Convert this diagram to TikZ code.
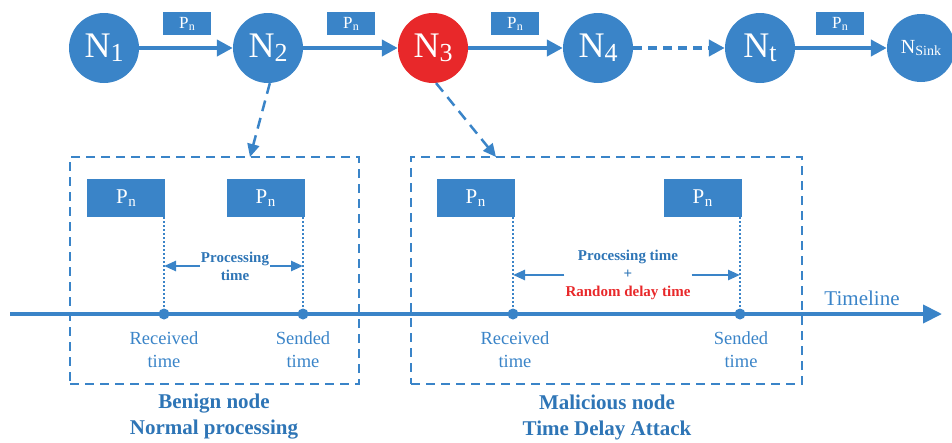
\documentclass[tikz,border=0pt]{standalone}
\usepackage{fontspec}
\setmainfont{Liberation Serif}
\usetikzlibrary{arrows.meta}
\definecolor{myblue}{HTML}{3A84C8}
\definecolor{myred}{HTML}{E8282A}
\definecolor{txtblue}{HTML}{2E75B6}
\newcommand\NN[1]{N\raisebox{-4pt}{\fontsize{26}{26}\selectfont #1}}
\newcommand\Psm{P\kern0.5pt\raisebox{-2pt}{\fontsize{12}{12}\selectfont n}}
\newcommand\Pbg{P\kern0.5pt\raisebox{-2.5pt}{\fontsize{15}{15}\selectfont n}}
\begin{document}
\begin{tikzpicture}[x=1pt,y=-1pt,
  net/.style={circle, fill=myblue, minimum size=70pt, inner sep=0pt, text=white, font=\fontsize{36}{36}\selectfont},
  badnet/.style={net, fill=myred},
  pksmall/.style={fill=myblue, text=white, inner sep=0pt, minimum width=48pt, minimum height=23pt, font=\fontsize{17}{17}\selectfont},
  pkbig/.style={fill=myblue, text=white, inner sep=0pt, minimum width=78pt, minimum height=38pt, font=\fontsize{21}{21}\selectfont},
  flow/.style={line width=4pt, myblue, -{Triangle[length=16pt,width=16pt]}},
  dflow/.style={flow, dash pattern=on 9pt off 6pt},
  zoomarr/.style={line width=2.5pt, myblue, dash pattern=on 11pt off 7pt, -{Triangle[length=13pt,width=12pt]}},
  frame/.style={draw=myblue, line width=2pt, dash pattern=on 9pt off 6pt},
  guide/.style={myblue, line width=2.5pt, dash pattern=on 2pt off 2pt},
  parr/.style={myblue, line width=2.5pt, -{Triangle[length=12pt,width=10pt]}},
  lbl/.style={text=myblue, align=center, font=\fontsize{18.5}{23}\selectfont},
  ptxt/.style={text=txtblue, align=center, inner sep=1pt, font=\bfseries\fontsize{15}{18}\selectfont},
  title/.style={text=txtblue, align=center, inner sep=0pt, font=\bfseries\fontsize{21}{26}\selectfont},
  dot/.style={circle, fill=myblue, minimum size=11pt, inner sep=0pt}
]
\useasboundingbox (0,0) rectangle (952,442);

% top chain
\node[net] (n1) at (104,48) {\NN{1}};
\node[net] (n2) at (268,48) {\NN{2}};
\node[badnet] (n3) at (433,48) {\NN{3}};
\node[net] (n4) at (598,48) {\NN{4}};
\node[net] (nt) at (760,48) {\NN{t}};
\node[net, minimum size=68pt, font=\fontsize{20}{20}\selectfont] (ns) at (921,48) {N\raisebox{-2pt}{\fontsize{14}{14}\selectfont Sink}};

\node[pksmall] (p1) at (187,23.5) {\Psm};
\node[pksmall] (p2) at (351,23.5) {\Psm};
\node[pksmall] (p3) at (515,23.5) {\Psm};
\node[pksmall] (p4) at (840,23.5) {\Psm};

\draw[flow] (n1) -- (n2);
\draw[flow] (n2) -- (n3);
\draw[flow] (n3) -- (n4);
\draw[dflow] (n4) -- (nt);
\draw[flow] (nt) -- (ns);

% frames
\node[frame, minimum width=289pt, minimum height=227pt, inner sep=0pt] (fb) at (214.5,270.5) {};
\node[frame, minimum width=391pt, minimum height=227pt, inner sep=0pt] (fm) at (606.5,270.5) {};

\coordinate (tb) at (250,157);
\coordinate (tm) at (496,157);
\draw[zoomarr] (n2.-87) -- (tb);
\draw[zoomarr] (n3.-85) -- (tm);

% packets in frames
\node[pkbig] (a1) at (126,198) {\Pbg};
\node[pkbig] (a2) at (265.5,198) {\Pbg};
\node[pkbig] (b1) at (475.5,198) {\Pbg};
\node[pkbig] (b2) at (702.5,198) {\Pbg};

% timeline
\coordinate (ts) at (10,314);
\coordinate (te) at (942,314);
\draw[line width=4pt, myblue, -{Triangle[length=19pt,width=18pt]}] (ts) -- (te);
\node[text=myblue, font=\fontsize{21}{21}\selectfont] (tl) at (862,298) {Timeline};

\node[dot] (r1) at (164,314) {};
\node[dot] (s1) at (303,314) {};
\node[dot] (r2) at (513,314) {};
\node[dot] (s2) at (740,314) {};

\draw[guide] (a1.south east -| r1) -- (r1);
\draw[guide] (a2.south east -| s1) -- (s1);
\draw[guide] (b1.south east -| r2) -- (r2);
\draw[guide] (b2.south east -| s2) -- (s2);

% processing time labels
\node[ptxt] (pt1) at (235,266) {Processing\\time};
\draw[parr] (pt1.west) -- (pt1.west -| r1);
\draw[parr] (pt1.east) -- (pt1.east -| s1);

\node[ptxt] (pt2) at (628,275) {Processing time\\+\\\textcolor{myred}{Random delay time}};
\draw[parr] (pt2.west) -- (pt2.west -| r2);
\draw[parr] (pt2.east) -- (pt2.east -| s2);

% time labels
\node[lbl] (lr1) at (164,350) {Received\\time};
\node[lbl] (ls1) at (303,350) {Sended\\time};
\node[lbl] (lr2) at (515,350) {Received\\time};
\node[lbl] (ls2) at (741,350) {Sended\\time};

% titles
\node[title] (tt1) at (214,417) {Benign node\\Normal processing};
\node[title] (tt2) at (607,417) {Malicious node\\Time Delay Attack};
\end{tikzpicture}
\end{document}
